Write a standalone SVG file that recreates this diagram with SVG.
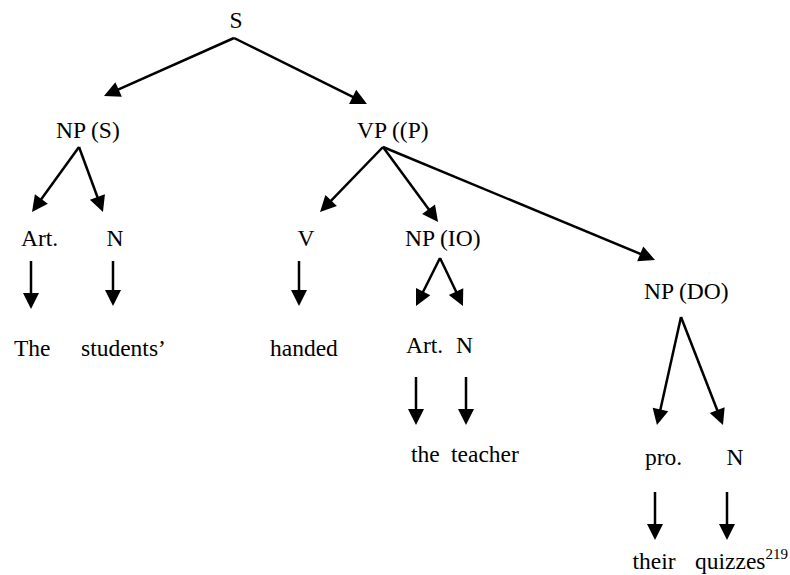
<svg xmlns="http://www.w3.org/2000/svg" width="790" height="575" viewBox="0 0 790 575">
<style>
text{font-family:"Liberation Serif","Times New Roman",serif;font-size:23.5px;fill:#000}
.sup{font-size:15px}
.c line{stroke:#000;stroke-width:2.5;marker-end:url(#ah)}
</style>
<defs>
<marker id="ah" markerUnits="userSpaceOnUse" markerWidth="16" markerHeight="16" refX="8" refY="8" orient="auto" overflow="visible">
<path d="M0,0 L16,8 L0,16 z" fill="#000"/>
</marker>
</defs>
<rect width="790" height="575" fill="#fff"/>
<g class="c" id="connectors">
<line x1="234" y1="38" x2="111.3" y2="92.7"/>
<line x1="234" y1="38" x2="359.8" y2="100.4"/>
<line x1="79" y1="147" x2="36.7" y2="205.5"/>
<line x1="79" y1="147" x2="100.2" y2="204.5"/>
<line x1="31" y1="261" x2="31" y2="301"/>
<line x1="113" y1="261" x2="113" y2="298"/>
<line x1="383" y1="147" x2="325.6" y2="206.3"/>
<line x1="383" y1="147" x2="433.3" y2="215.6"/>
<line x1="383" y1="147" x2="647.6" y2="256.9"/>
<line x1="299" y1="261" x2="299" y2="298"/>
<line x1="440" y1="258" x2="419.6" y2="298.8"/>
<line x1="440" y1="258" x2="459.5" y2="298.8"/>
<line x1="416" y1="377" x2="416" y2="417"/>
<line x1="466" y1="377" x2="466" y2="417"/>
<line x1="681" y1="317" x2="658.7" y2="417.2"/>
<line x1="681" y1="317" x2="720.1" y2="417.5"/>
<line x1="655" y1="492" x2="655" y2="532"/>
<line x1="727" y1="492" x2="727" y2="532"/>
</g>
<g id="n-S"><text x="236" y="28" text-anchor="middle">S</text></g>
<g id="n-NPS"><text x="56" y="137.5">NP (S)</text></g>
<g id="n-VP"><text x="357" y="137.5">VP ((P)</text></g>
<g id="n-Art1"><text x="21" y="246">Art.</text></g>
<g id="n-N1"><text x="106.5" y="246">N</text></g>
<g id="n-V"><text x="297.5" y="246">V</text></g>
<g id="n-NPIO"><text x="405" y="246">NP (IO)</text></g>
<g id="n-NPDO"><text x="644" y="299">NP (DO)</text></g>
<g id="n-The"><text x="14" y="356">The</text></g>
<g id="n-students"><text x="81" y="356">students’</text></g>
<g id="n-handed"><text x="270" y="356">handed</text></g>
<g id="n-Art2"><text x="406" y="353">Art.</text></g>
<g id="n-N2"><text x="456" y="353">N</text></g>
<g id="n-the"><text x="411" y="462">the</text></g>
<g id="n-teacher"><text x="451" y="462">teacher</text></g>
<g id="n-pro"><text x="645" y="465">pro.</text></g>
<g id="n-N3"><text x="726.5" y="465">N</text></g>
<g id="n-their"><text x="632.5" y="569">their</text></g>
<g id="n-quizzes"><text x="695" y="569">quizzes<tspan class="sup" dy="-10">219</tspan></text></g>
</svg>
